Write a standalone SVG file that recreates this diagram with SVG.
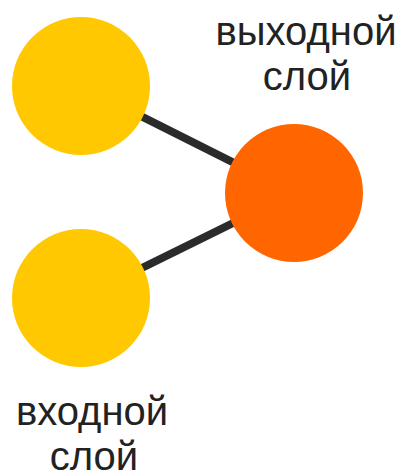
<svg xmlns="http://www.w3.org/2000/svg" width="401" height="472" viewBox="0 0 401 472">
  <style>
    .edge { stroke: #2b2b2b; stroke-width: 8; stroke-linecap: butt; }
    .input { fill: #FFC800; }
    .output { fill: #FF6600; }
    .label { font-family: "Liberation Sans", Arial, sans-serif; font-size: 40px; fill: #222222; text-anchor: middle; }
  </style>
  <rect width="401" height="472" fill="#ffffff"/>
  <g id="connectors">
    <line class="edge" x1="81" y1="86" x2="294" y2="193"/>
    <line class="edge" x1="81" y1="298" x2="294" y2="193"/>
  </g>
  <g id="input-top">
    <circle class="input" cx="81" cy="86" r="69"/>
  </g>
  <g id="input-bottom">
    <circle class="input" cx="81" cy="298" r="69"/>
  </g>
  <g id="output">
    <circle class="output" cx="294" cy="193" r="69"/>
  </g>
  <g id="output-label">
    <text class="label" x="306" y="45">выходной</text>
    <text class="label" x="307" y="90">слой</text>
  </g>
  <g id="input-label">
    <text class="label" x="92" y="425">входной</text>
    <text class="label" x="94" y="470">слой</text>
  </g>
</svg>
